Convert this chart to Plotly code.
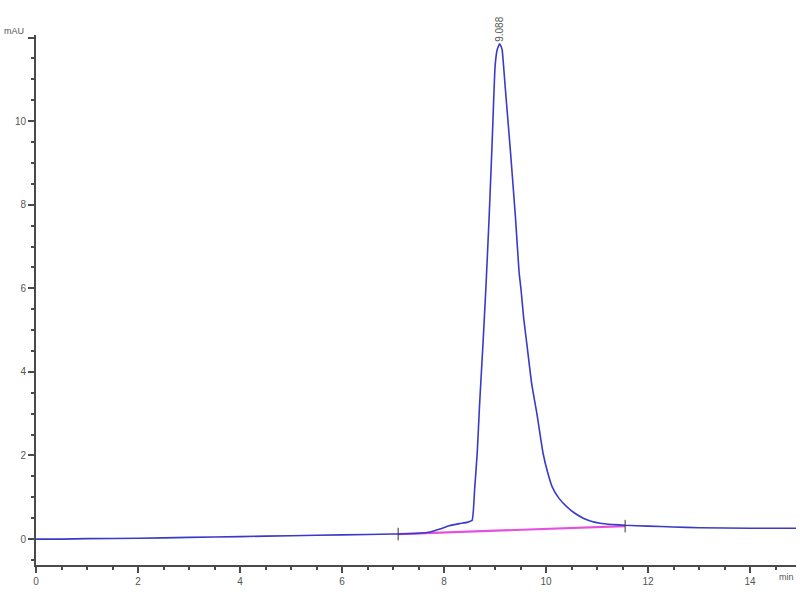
import plotly.graph_objects as go

# Chromatogram trace (time in min, signal in mAU)
time_min = [0.0, 0.5, 1.0, 2.0, 3.0, 4.0, 5.0, 6.0, 7.0, 7.5, 7.73, 7.92, 8.1, 8.3, 8.45, 8.55,
            8.6, 8.65, 8.7, 8.76, 8.82, 8.88, 8.94, 9.0, 9.04, 9.088, 9.12, 9.14, 9.2, 9.3,
            9.4, 9.47, 9.51, 9.56, 9.63, 9.72, 9.82, 9.94, 10.03, 10.12, 10.25, 10.41, 10.55,
            10.73, 10.9, 11.06, 11.3, 11.55, 12.0, 12.5, 13.0, 14.0, 15.0]
signal_mau = [0.0, 0.0, 0.01, 0.02, 0.04, 0.06, 0.08, 0.10, 0.12, 0.14, 0.17, 0.24, 0.32, 0.37, 0.40, 0.45,
              1.2, 2.06, 3.3, 4.6, 6.0, 7.6, 9.4, 11.3, 11.7, 11.85, 11.78, 11.7, 10.8, 9.3,
              7.7, 6.4, 5.96, 5.3, 4.6, 3.7, 3.0, 2.06, 1.6, 1.25, 0.98, 0.77, 0.63,
              0.50, 0.42, 0.38, 0.35, 0.33, 0.31, 0.29, 0.27, 0.26, 0.26]

# Integration baseline
baseline_x = [7.1, 11.55]
baseline_y = [0.12, 0.31]

# Peak annotation
peak_rt = 9.088
peak_height = 11.85
peak_label = "9.088"

x_tick_vals = [0, 2, 4, 6, 8, 10, 12, 14]
x_tick_text = ["0", "2", "4", "6", "8", "10", "12", "14"]
y_tick_vals = [0, 2, 4, 6, 8, 10, 12]
y_tick_text = ["0", "2", "4", "6", "8", "10", ""]

font_fam = "Liberation Sans, Arial, sans-serif"
axis_col = "#4a4a4a"
text_col = "#555555"

fig = go.Figure()
fig.add_trace(go.Scatter(x=baseline_x, y=baseline_y, mode="lines",
                         line=dict(color="#e64fe0", width=2.2), hoverinfo="skip"))
fig.add_trace(go.Scatter(x=time_min, y=signal_mau, mode="lines",
                         line=dict(color="#3a3ac8", width=1.6, shape="spline", smoothing=0.4)))
fig.add_trace(go.Scatter(x=baseline_x, y=baseline_y, mode="markers",
                         marker=dict(symbol="line-ns", size=9,
                                     line=dict(color="#333333", width=1)),
                         hoverinfo="skip"))

fig.add_annotation(x=peak_rt, y=peak_height, xref="x", yref="y", text=peak_label,
                   textangle=-90, showarrow=False, yanchor="bottom", yshift=0,
                   font=dict(family=font_fam, size=10, color=text_col))
fig.add_annotation(x=0, y=1, xref="paper", yref="paper", text="mAU", showarrow=False,
                   xanchor="right", yanchor="middle", xshift=-10, yshift=4,
                   font=dict(family=font_fam, size=9, color=text_col))
fig.add_annotation(x=14.72, y=0, xref="x", yref="paper", text="min", showarrow=False,
                   xanchor="center", yanchor="top", yshift=-5,
                   font=dict(family=font_fam, size=9, color=text_col))

fig.update_layout(
    width=800, height=600,
    margin=dict(l=36, r=4, t=35, b=35),
    paper_bgcolor="white", plot_bgcolor="white",
    showlegend=False,
    font=dict(family=font_fam, size=10, color=text_col),
    xaxis=dict(range=[0, 14.9], tickvals=x_tick_vals, ticktext=x_tick_text, automargin=False,
               showgrid=False, zeroline=False, showline=True, linecolor=axis_col, linewidth=2,
               ticks="outside", ticklen=6, tickwidth=2, tickcolor=axis_col,
               minor=dict(dtick=0.5, tick0=0, ticks="outside", ticklen=3, tickwidth=1.5,
                          tickcolor=axis_col, showgrid=False),
               tickfont=dict(size=10, color=text_col)),
    yaxis=dict(range=[-0.62, 12.06], tickvals=y_tick_vals, ticktext=y_tick_text, automargin=False,
               showgrid=False, zeroline=False, showline=True, linecolor=axis_col, linewidth=2,
               ticks="outside", ticklen=6, tickwidth=2, tickcolor=axis_col,
               minor=dict(dtick=0.5, tick0=0, ticks="outside", ticklen=3, tickwidth=1.5,
                          tickcolor=axis_col, showgrid=False),
               tickfont=dict(size=10, color=text_col)),
)

fig.write_html("out.html", config={"displayModeBar": False},
               post_script="document.body.style.margin='0';document.body.style.overflow='hidden';")
